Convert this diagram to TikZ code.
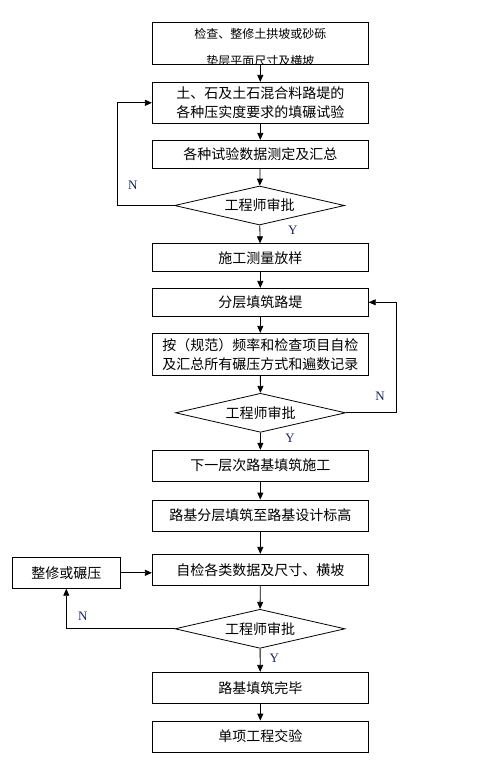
\documentclass[tikz,border=0pt]{standalone}
\usepackage{fontspec}
\setmainfont{Liberation Serif}
\newfontfamily\cjk{Noto Sans CJK SC}
\usetikzlibrary{shapes.geometric,arrows.meta}
\definecolor{navy}{RGB}{25,35,95}
\begin{document}
\begin{tikzpicture}[x=1pt,y=-1pt,
        box/.style={draw, line width=.8pt, minimum width=216pt, inner sep=0pt, align=center, font=\cjk\fontsize{14}{19.3}\selectfont},
        dec/.style={draw, diamond, aspect=4.4, line width=.8pt, minimum width=170pt, minimum height=39pt, inner sep=0pt, font=\cjk\fontsize{14}{14}\selectfont},
        arr/.style={line width=.8pt, -{Triangle[length=7pt,width=6pt]}},
        lab/.style={text=navy, font=\fontsize{13}{13}\selectfont}]
        \useasboundingbox (0,0) rectangle (492,761);
        % top box, second line cut by the frame
        \begin{scope}
            \clip (152.3,22.3) rectangle (368.3,64.3);
            \node [font=\cjk\fontsize{12}{12}\selectfont] (t1b) at (260.3,61) {垫层平面尺寸及横坡};
        \end{scope}
        \node [box, minimum height=42pt] (b1) at (260.3,43.3) {};
        \node [font=\cjk\fontsize{12}{12}\selectfont] (t1a) at (260.3,33.5) {检查、整修土拱坡或砂砾};
        % main column
        \node [box, minimum height=41pt] (b2) at (260.3,102.8) {土、石及土石混合料路堤的\\各种压实度要求的填碾试验};
        \node [box, minimum height=28pt] (b3) at (260.3,154.3) {各种试验数据测定及汇总};
        \node [dec] (d1) at (259.5,205.5) {工程师审批};
        \node [box, minimum height=28pt] (b4) at (260.3,257.7) {施工测量放样};
        \node [box, minimum height=28pt] (b5) at (260.3,302.3) {分层填筑路堤};
        \node [box, minimum height=42pt] (b6) at (260.3,354.3) {按（规范）频率和检查项目自检\\及汇总所有碾压方式和遍数记录};
        \node [dec] (d2) at (260.5,412.8) {工程师审批};
        \node [box, minimum height=31pt] (b7) at (260.3,465.7) {下一层次路基填筑施工};
        \node [box, minimum height=31pt] (b8) at (260.3,515.5) {路基分层填筑至路基设计标高};
        \node [box, minimum height=31pt] (b9) at (260.3,569.8) {自检各类数据及尺寸、横坡};
        \node [box, minimum width=108pt, minimum height=31pt] (fix) at (66.3,572.8) {整修或碾压};
        \node [dec] (d3) at (260,628.8) {工程师审批};
        \node [box, minimum height=31pt] (b10) at (260.3,687.8) {路基填筑完毕};
        \node [box, minimum height=31pt] (b11) at (260.3,736.5) {单项工程交验};
        % arrows down
        \draw [arr] (b1) -- (b2);
        \draw [arr] (b2) -- (b3);
        \draw [arr] (b3) -- (d1);
        \draw [arr] (d1) -- (b4);
        \draw [arr] (b4) -- (b5);
        \draw [arr] (b5) -- (b6);
        \draw [arr] (b6) -- (d2);
        \draw [arr] (d2) -- (b7);
        \draw [arr] (b7) -- (b8);
        \draw [arr] (b8) -- (b9);
        \draw [arr] (b9) -- (d3);
        \draw [arr] (d3) -- (b10);
        \draw [arr] (b10) -- (b11);
        % loops back
        \draw [arr] (d1.west) -- ++(-57,0) |- (b2.west);
        \draw [arr] (d2.east) -- ++(50,0) |- (b5.east);
        \draw [arr] (d3.west) -| (fix.south);
        \draw [arr] (fix.east) -- (fix.east -| b9.west);
        \node [lab] (n1) at (132.7,185) {N};
        \node [lab] (y1) at (292.7,230) {Y};
        \node [lab] (n2) at (380,396.7) {N};
        \node [lab] (y2) at (290,438.3) {Y};
        \node [lab] (n3) at (82.7,616) {N};
        \node [lab] (y3) at (274.3,658.3) {Y};
    \end{tikzpicture}
\end{document}
